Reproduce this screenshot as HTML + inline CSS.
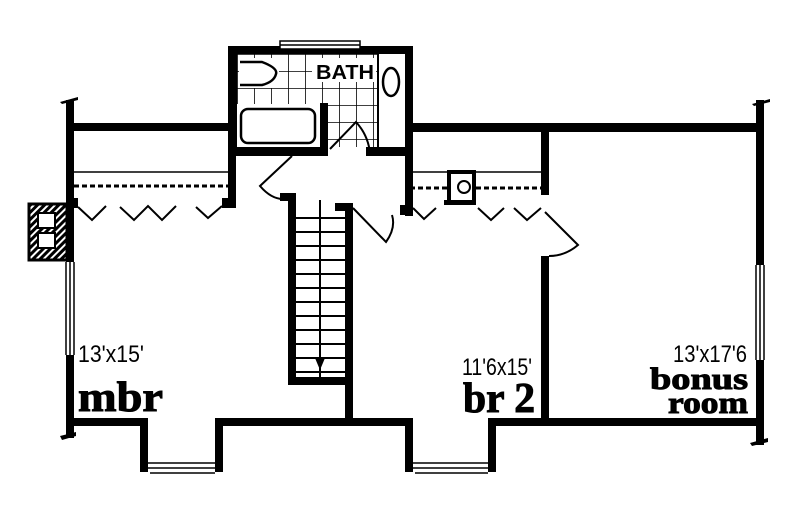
<!DOCTYPE html>
<html><head><style>html,body{margin:0;padding:0;background:#fff}svg{display:block}</style></head>
<body>
<svg width="800" height="516" viewBox="0 0 800 516" xmlns="http://www.w3.org/2000/svg">
<defs>
<pattern id="tile" x="237" y="54" width="17" height="17" patternUnits="userSpaceOnUse">
<path d="M0 0H17M0 0V17" stroke="#000" stroke-width="1.6" fill="none"/>
</pattern>
<pattern id="hatch" width="5" height="5" patternUnits="userSpaceOnUse" patternTransform="rotate(45)">
<rect width="3" height="5" fill="#000"/>
</pattern>
</defs>
<rect width="800" height="516" fill="#fff"/>
<rect x="237" y="54" width="141" height="93" fill="url(#tile)"/>
<rect x="239" y="58" width="40" height="30" fill="#fff"/>
<rect x="312" y="58" width="64" height="24" fill="#fff"/>
<rect x="237" y="104" width="90" height="45" fill="#fff"/>
<line x1="378" y1="54" x2="378" y2="147" stroke="#000" stroke-width="2"/>
<path d="M240 62 H262 Q278 68 276 74 Q274 82 262 85 H240" fill="#fff" stroke="#000" stroke-width="2.5"/>
<ellipse cx="391" cy="82" rx="8" ry="14" fill="#fff" stroke="#000" stroke-width="2.5"/>
<rect x="241" y="109" width="74" height="34" rx="7" fill="#fff" stroke="#000" stroke-width="2.5"/>
<text x="345" y="79" font-family="Liberation Sans, sans-serif" font-weight="bold" font-size="20" text-anchor="middle" textLength="58" lengthAdjust="spacingAndGlyphs">BATH</text>
<g fill="#000">
<rect x="228" y="46" width="9" height="110"/>
<rect x="228" y="46" width="185" height="8"/>
<rect x="405" y="46" width="8" height="170"/>
<rect x="228" y="147" width="99" height="9"/>
<rect x="366" y="147" width="47" height="9"/>
<rect x="320" y="103" width="8" height="53"/>
<rect x="228" y="150" width="8" height="58"/>
<rect x="70" y="123" width="166" height="8"/>
<rect x="66" y="100" width="8" height="162"/>
<rect x="66" y="355" width="8" height="83"/>
<rect x="756" y="100" width="8" height="165"/>
<rect x="756" y="360" width="8" height="85"/>
<rect x="405" y="123" width="359" height="9"/>
<rect x="541" y="123" width="8" height="72"/>
<rect x="541" y="256" width="8" height="166"/>
<rect x="288" y="195" width="8" height="190"/>
<rect x="288" y="377" width="60" height="8"/>
<rect x="345" y="205" width="8" height="215"/>
<rect x="335" y="203" width="18" height="8"/>
<rect x="280" y="193" width="16" height="8"/>
<rect x="222" y="198" width="14" height="10"/>
<rect x="66" y="198" width="12" height="10"/>
<rect x="400" y="205" width="13" height="10"/>
<rect x="447" y="170" width="29" height="4"/>
<rect x="447" y="170" width="4" height="34"/>
<rect x="472" y="170" width="4" height="34"/>
<rect x="444" y="200" width="32" height="5"/>
<rect x="66" y="418" width="82" height="8"/>
<rect x="140" y="418" width="8" height="54"/>
<rect x="215" y="418" width="8" height="54"/>
<rect x="215" y="418" width="198" height="8"/>
<rect x="405" y="418" width="8" height="54"/>
<rect x="488" y="418" width="8" height="54"/>
<rect x="488" y="418" width="276" height="8"/>
<path d="M60 102 L78 97 L78 100 L62 104Z"/>
<path d="M60 436 L76 432 L76 436 L62 440Z"/>
<path d="M752 104 L770 99 L770 102 L754 106Z"/>
<path d="M750 443 L768 438 L768 442 L752 446Z"/>
</g>
<g stroke="#000" stroke-width="1.5" fill="none">
<rect x="280" y="41" width="80" height="8" fill="#fff"/>
<line x1="280" y1="45" x2="360" y2="45"/>
<line x1="66" y1="262" x2="66" y2="355"/><line x1="70" y1="262" x2="70" y2="355"/><line x1="74" y1="262" x2="74" y2="355"/>
<line x1="756" y1="265" x2="756" y2="360"/><line x1="760" y1="265" x2="760" y2="360"/><line x1="764" y1="265" x2="764" y2="360"/>
<line x1="148" y1="463" x2="215" y2="463"/><line x1="148" y1="468" x2="215" y2="468"/><line x1="150" y1="473" x2="215" y2="473"/>
<line x1="413" y1="463" x2="488" y2="463"/><line x1="413" y1="468" x2="488" y2="468"/><line x1="415" y1="473" x2="488" y2="473"/>
<line x1="74" y1="172" x2="228" y2="172"/>
<line x1="410" y1="172" x2="447" y2="172"/><line x1="476" y1="172" x2="541" y2="172"/>
</g>
<g stroke="#000" stroke-width="3" stroke-dasharray="5,3" fill="none">
<line x1="74" y1="186" x2="228" y2="186"/>
<line x1="410" y1="188" x2="447" y2="188"/><line x1="476" y1="188" x2="541" y2="188"/>
</g>
<circle cx="464" cy="187" r="6" fill="#fff" stroke="#000" stroke-width="2"/>
<g stroke="#000" stroke-width="2" fill="none">
<path d="M78 207 L92 220 L106 206"/><path d="M120 207 L134 220 L148 206 L162 220 L176 206"/><path d="M196 207 L208 218 L222 206"/>
<path d="M413 208 L424 219 L436 208"/><path d="M478 208 L491 220 L504 208"/><path d="M514 208 L527 220 L541 208"/>
<path d="M292 156 L260 186 Q272 200 285 199"/>
<path d="M353 208 L386 242 Q396 228 392 215"/>
<path d="M545 212 L578 245 Q565 256 549 256"/>
<path d="M330 149 L356 122 Q368 135 370 153"/>
</g>
<g stroke="#000" stroke-width="2">
<line x1="320" y1="200" x2="320" y2="377"/>
<line x1="296" y1="218" x2="345" y2="218"/><line x1="296" y1="232" x2="345" y2="232"/>
<line x1="296" y1="246" x2="345" y2="246"/><line x1="296" y1="260" x2="345" y2="260"/>
<line x1="296" y1="274" x2="345" y2="274"/><line x1="296" y1="288" x2="345" y2="288"/>
<line x1="296" y1="302" x2="345" y2="302"/><line x1="296" y1="316" x2="345" y2="316"/>
<line x1="296" y1="330" x2="345" y2="330"/><line x1="296" y1="344" x2="345" y2="344"/>
<line x1="296" y1="358" x2="345" y2="358"/><line x1="296" y1="372" x2="345" y2="372"/>
</g>
<path d="M315 358 L325 358 L320 370Z" fill="#000"/>
<rect x="29" y="204" width="38" height="56" fill="url(#hatch)" stroke="#000" stroke-width="3"/>
<rect x="38" y="213" width="17" height="15" fill="#fff" stroke="#000" stroke-width="2"/>
<rect x="38" y="233" width="17" height="15" fill="#fff" stroke="#000" stroke-width="2"/>
<g font-family="Liberation Sans Narrow, Liberation Sans, sans-serif" font-size="24">
<text x="78" y="362" textLength="66" lengthAdjust="spacingAndGlyphs">13'x15'</text>
<text x="462" y="375" textLength="70" lengthAdjust="spacingAndGlyphs">11'6x15'</text>
<text x="673" y="362" textLength="74" lengthAdjust="spacingAndGlyphs">13'x17'6</text>
</g>
<g font-family="Liberation Serif, serif" font-weight="bold" stroke="#000" stroke-width="1">
<text x="78" y="411" font-size="42" textLength="85" lengthAdjust="spacingAndGlyphs">mbr</text>
<text x="463" y="412" font-size="42" textLength="72" lengthAdjust="spacingAndGlyphs">br 2</text>
<text x="650" y="389" font-size="31" textLength="98" lengthAdjust="spacingAndGlyphs">bonus</text>
<text x="668" y="413" font-size="31" textLength="80" lengthAdjust="spacingAndGlyphs">room</text>
</g>
</svg>
</body></html>
